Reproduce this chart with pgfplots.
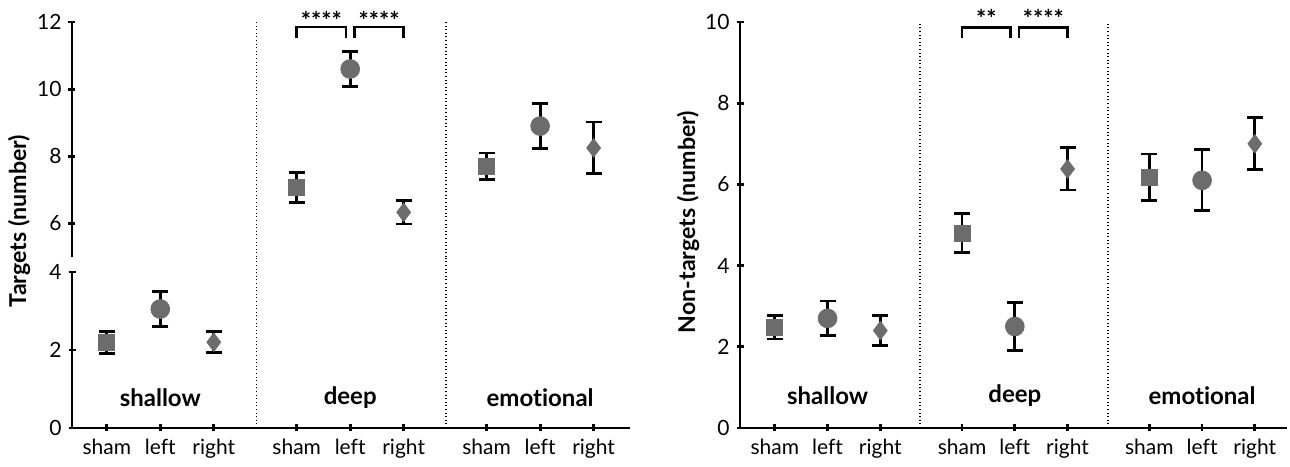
\documentclass[border=0pt]{standalone}
\usepackage{pgfplots}
\pgfplotsset{compat=1.18}
\usepackage{fontspec}
\setmainfont{Lato}[Ligatures={NoCommon}]
\definecolor{mk}{RGB}{108,108,108}
\pgfplotsset{
  base/.style={scale only axis, anchor=south west, clip=false,
    tick style={line width=1.4pt, black},
    major tick length=3.5pt, tick align=outside,
    /pgf/number format/assume math mode=true,
    tick label style={font=\fontsize{10.5}{12}\selectfont},
    xmin=0.35, xmax=10.78,
  },
  noarrow/.style={
    every outer x axis line/.append style={-, line width=1.4pt, black},
    every outer y axis line/.append style={-, line width=1.4pt, black},
    every inner x axis line/.append style={-, line width=1.4pt, black},
    every inner y axis line/.append style={-, line width=1.4pt, black},
    axis line style={-, line width=1.4pt, black}},
  xt/.style={xtick={1,2,3,4.55,5.55,6.55,8.1,9.1,10.1},
    xticklabels={sham,left,right,sham,left,right,sham,left,right}},
  eb/.style={error bars/.cd, y dir=both, y explicit,
    error bar style={solid, line width=1.4pt, black},
    error mark options={solid, rotate=90, line width=1.4pt, black, mark size=4pt}},
  sq/.style={only marks, solid, color=mk, mark=square*, mark size=4pt, mark options={solid, fill=mk, draw=mk}, eb},
  ci/.style={only marks, solid, color=mk, mark=*, mark size=4.7pt, mark options={solid, fill=mk, draw=mk}, eb},
  di/.style={only marks, solid, color=mk, mark=diamond*, mark size=4.6pt, mark options={solid, fill=mk, draw=mk}, eb},
}
\tikzset{dotline/.style={black, line width=0.8pt, dash pattern=on 0.5pt off 1.3pt},
  brk/.style={black, line width=1.4pt},
  grp/.style={font=\fontsize{12}{14}\selectfont\bfseries},
  star/.style={font=\fontsize{12}{14}\selectfont\bfseries, yshift=-2.5pt}}
\begin{document}
\begin{tikzpicture}
\path[use as bounding box] (0,0) rectangle (645pt,233pt);
% ---------- left chart, lower segment ----------
\begin{axis}[base, xt, at={(36pt,19pt)}, width=279pt, height=78pt,
  axis x line=bottom, axis y line=left, noarrow, ymin=0, ymax=4, ytick={0,2,4}]
\addplot[sq] coordinates {(1,2.2) +- (0,0.28)};
\addplot[ci] coordinates {(2,3.05) +- (0,0.45)};
\addplot[di] coordinates {(3,2.2) +- (0,0.27)};
\draw[dotline] (axis cs:3.8,0) -- (axis cs:3.8,4.39);
\draw[dotline] (axis cs:7.34,0) -- (axis cs:7.34,4.39);
\node[grp] at (axis cs:2,0.77) {shallow};
\node[grp] at (axis cs:5.55,0.77) {deep};
\node[grp] at (axis cs:9.1,0.77) {emotional};
\end{axis}
% ---------- left chart, upper segment ----------
\begin{axis}[base, at={(36pt,104.5pt)}, width=279pt, height=117.5pt,
  axis x line=none, axis y line=left, noarrow, ymin=5, ymax=12, ytick={6,8,10,12}]
\addplot[sq] coordinates {(4.55,7.07) +- (0,0.44)};
\addplot[ci] coordinates {(5.55,10.6) +- (0,0.53)};
\addplot[di] coordinates {(6.55,6.33) +- (0,0.35)};
\addplot[sq] coordinates {(8.1,7.7) +- (0,0.4)};
\addplot[ci] coordinates {(9.1,8.9) +- (0,0.67)};
\addplot[di] coordinates {(10.1,8.25) +- (0,0.77)};
\draw[dotline] (axis cs:3.8,5) -- (axis cs:3.8,12);
\draw[dotline] (axis cs:7.34,5) -- (axis cs:7.34,12);
\draw[brk] (axis cs:4.55,11.52) |- (axis cs:5.47,11.85) -- (axis cs:5.47,11.52);
\draw[brk] (axis cs:5.63,11.52) |- (axis cs:6.55,11.85) -- (axis cs:6.55,11.52);
\node[star] at (axis cs:5.01,12.2) {****};
\node[star] at (axis cs:6.09,12.2) {****};
\end{axis}
\node[rotate=90, font=\fontsize{11.6}{13}\selectfont\bfseries] at (9.5pt,122.5pt) {Targets (number)};
% ---------- right chart ----------
\begin{axis}[base, xt, at={(370pt,19pt)}, width=273.5pt, height=203pt,
  xmin=0.34, xmax=10.71,
  axis x line=bottom, axis y line=left, noarrow, ymin=0, ymax=10, ytick={0,2,4,6,8,10}]
\addplot[sq] coordinates {(1,2.48) +- (0,0.29)};
\addplot[ci] coordinates {(2,2.7) +- (0,0.43)};
\addplot[di] coordinates {(3,2.4) +- (0,0.37)};
\addplot[sq] coordinates {(4.55,4.8) +- (0,0.48)};
\addplot[ci] coordinates {(5.55,2.5) +- (0,0.6)};
\addplot[di] coordinates {(6.55,6.38) +- (0,0.52)};
\addplot[sq] coordinates {(8.1,6.18) +- (0,0.57)};
\addplot[ci] coordinates {(9.1,6.1) +- (0,0.75)};
\addplot[di] coordinates {(10.1,7.0) +- (0,0.64)};
\draw[dotline] (axis cs:3.75,0) -- (axis cs:3.75,10);
\draw[dotline] (axis cs:7.32,0) -- (axis cs:7.32,10);
\draw[brk] (axis cs:4.55,9.6) |- (axis cs:5.47,9.86) -- (axis cs:5.47,9.6);
\draw[brk] (axis cs:5.63,9.6) |- (axis cs:6.55,9.86) -- (axis cs:6.55,9.6);
\node[star] at (axis cs:5.01,10.2) {**};
\node[star] at (axis cs:6.09,10.2) {****};
\node[grp] at (axis cs:2,0.79) {shallow};
\node[grp] at (axis cs:5.55,0.79) {deep};
\node[grp] at (axis cs:9.1,0.79) {emotional};
\end{axis}
\node[rotate=90, font=\fontsize{11.6}{13}\selectfont\bfseries] at (344pt,122pt) {Non-targets (number)};
\end{tikzpicture}
\end{document}
